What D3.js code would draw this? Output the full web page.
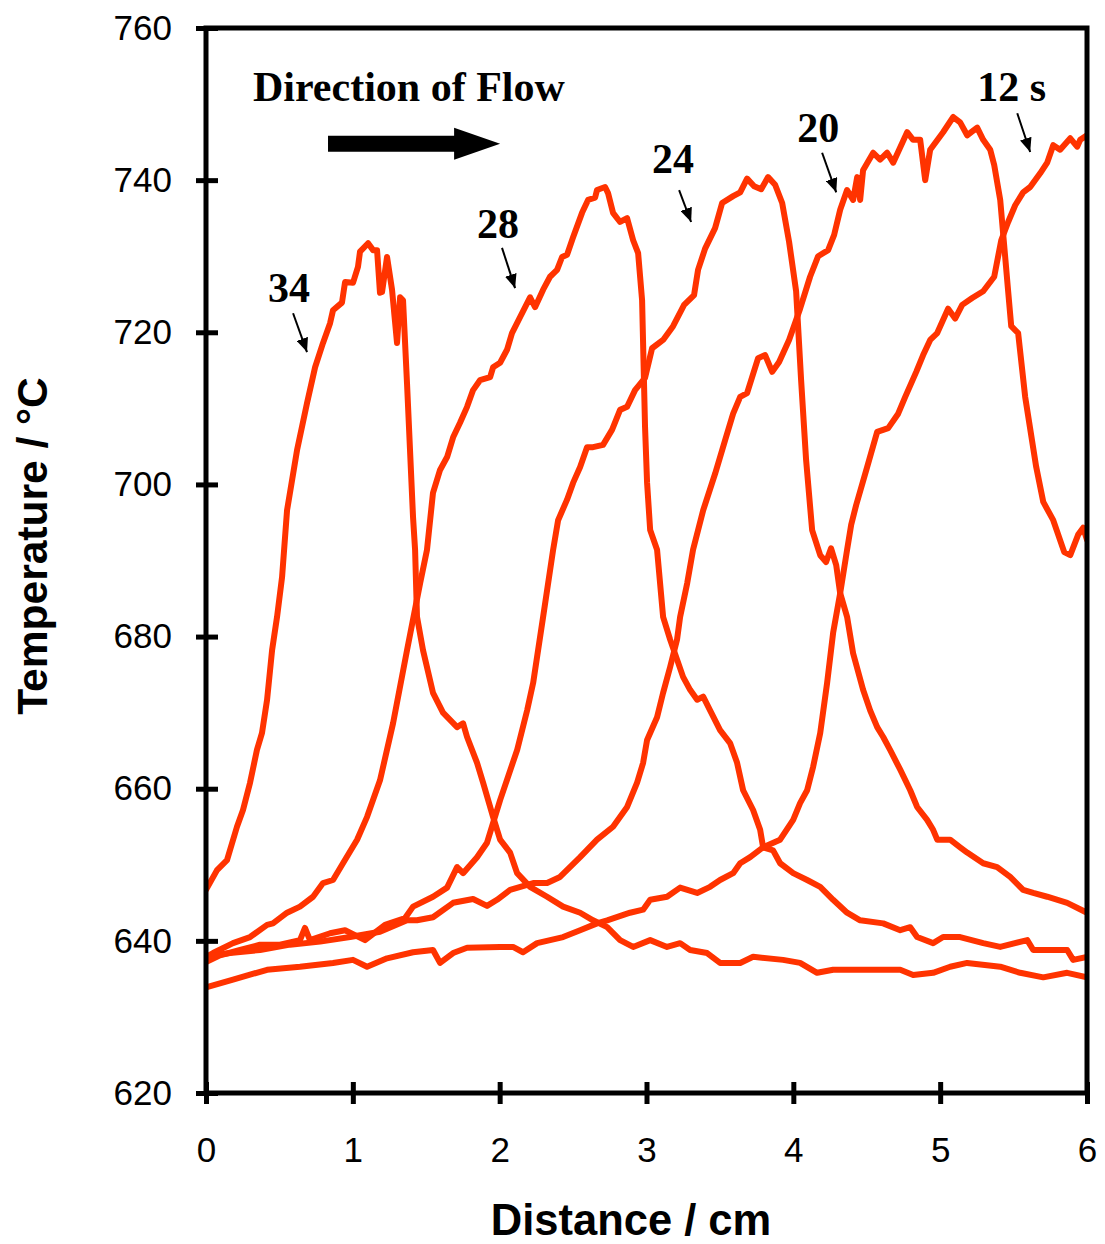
<!DOCTYPE html>
<html>
<head>
<meta charset="utf-8">
<script src="https://cdn.jsdelivr.net/npm/d3@7"></script>
<style>
  html, body { margin: 0; padding: 0; background: #fff; }
  svg { display: block; }
</style>
</head>
<body>
<svg id="chart" width="1105" height="1244"></svg>
<script>
// ---------------- DATA ----------------
const xTicks = [0, 1, 2, 3, 4, 5, 6];
const yTicks = [620, 640, 660, 680, 700, 720, 740, 760];
const xTitle = "Distance / cm";
const yTitle = "Temperature / °C";
const flowLabel = "Direction of Flow";
const seriesNames = ["34", "28", "24", "20", "12 s"];

const dist34 = [0,0.075,0.143,0.211,0.252,0.300,0.347,0.381,0.416,0.450,0.484,0.518,0.552,0.620,0.688,0.743,0.797,0.845,0.865,0.926,0.947,1.001,1.035,1.049,1.104,1.138,1.165,1.185,1.199,1.233,1.267,1.301,1.322,1.342,1.369,1.410,1.424,1.437,1.478,1.546,1.614,1.710,1.751,1.778,1.846,1.887,1.955,2.003,2.071,2.119,2.207,2.323,2.432,2.548,2.636,2.732,2.820,2.909,3.025,3.140,3.229,3.297,3.413,3.501,3.638,3.726,3.930,4.046,4.162,4.271,4.503,4.728,4.816,4.952,5.068,5.184,5.409,5.545,5.702,5.865,6.0];
const temp34 = [646.7,649.3,650.6,655.0,657.2,660.8,665.1,667.3,671.7,678.2,682.6,687.8,696.6,704.5,710.7,715.4,718.6,721.2,722.9,723.9,726.6,726.5,728.6,730.6,731.7,730.8,730.8,725.2,725.3,729.9,725.6,718.6,724.6,724.2,713.3,695.7,691.4,682.6,678.2,672.6,670.0,668.1,668.6,666.8,663.4,660.8,656.3,653.3,651.6,648.9,647.1,645.8,644.5,643.7,642.7,641.8,640.1,639.2,640.1,639.2,639.7,638.8,638.4,637.1,637.1,637.9,637.5,637.1,635.8,636.2,636.2,636.2,635.5,635.8,636.6,637.1,636.6,635.8,635.2,635.8,635.2];

const dist28 = [0,0.048,0.184,0.300,0.416,0.456,0.552,0.640,0.729,0.797,0.865,0.933,1.029,1.097,1.185,1.274,1.369,1.458,1.505,1.546,1.594,1.642,1.683,1.730,1.778,1.819,1.866,1.935,1.955,2.003,2.050,2.084,2.139,2.207,2.241,2.296,2.343,2.391,2.425,2.459,2.500,2.561,2.602,2.650,2.663,2.718,2.738,2.772,2.820,2.868,2.909,2.943,2.970,2.990,3.004,3.025,3.072,3.113,3.161,3.249,3.297,3.345,3.386,3.433,3.501,3.569,3.617,3.658,3.726,3.774,3.794,3.862,3.910,3.999,4.094,4.183,4.271,4.366,4.455,4.612,4.728,4.796,4.843,4.952,5.020,5.136,5.293,5.409,5.593,5.634,5.865,5.906,6.0];
const temp28 = [637.9,638.4,639.7,640.5,642.1,642.3,643.7,644.5,645.8,647.6,648.0,650.2,653.3,656.3,661.1,668.6,678.2,687.0,691.4,698.9,701.9,703.6,706.2,708.1,710.2,712.4,713.7,714.1,715.4,716.0,717.7,719.9,722.0,724.6,723.3,725.6,727.3,728.2,729.9,730.2,732.5,735.7,737.4,737.7,738.7,739.1,738.3,735.7,734.5,735.0,732.1,730.4,724.2,707.6,700.2,694.0,691.4,682.6,679.6,674.7,673.0,671.7,672.1,670.3,667.7,666.0,663.4,659.8,657.2,654.6,652.3,651.9,650.2,648.9,648.0,647.1,645.4,643.7,642.7,642.3,641.4,641.8,640.5,639.7,640.5,640.5,639.7,639.2,640.1,638.8,638.8,637.5,637.9];

const dist24 = [0,0.095,0.232,0.368,0.504,0.640,0.674,0.708,0.845,0.947,1.083,1.219,1.356,1.410,1.546,1.642,1.710,1.751,1.846,1.914,2.003,2.119,2.187,2.228,2.296,2.364,2.398,2.459,2.500,2.548,2.595,2.636,2.704,2.766,2.820,2.868,2.922,2.990,3.038,3.113,3.181,3.256,3.324,3.351,3.399,3.467,3.515,3.590,3.638,3.685,3.733,3.781,3.828,3.876,3.924,3.971,4.019,4.053,4.087,4.128,4.183,4.223,4.257,4.292,4.319,4.366,4.407,4.475,4.523,4.571,4.612,4.659,4.728,4.796,4.843,4.911,4.952,4.980,5.068,5.136,5.184,5.293,5.388,5.477,5.565,5.634,5.729,5.865,6.0];
const temp24 = [637.2,638.1,638.8,639.5,639.5,640.1,641.7,640.1,641.0,641.4,640.1,642.1,643.0,644.5,645.8,647.0,649.7,648.9,651.0,652.9,658.5,665.1,670.3,673.9,682.6,691.4,695.3,698.0,700.2,702.3,704.9,704.9,705.2,707.2,709.8,710.2,712.4,714.0,717.9,719.0,720.8,723.6,724.9,728.2,731.0,733.7,737.0,737.9,738.4,740.2,739.2,738.8,740.4,739.4,737.0,731.9,725.4,713.7,703.2,694.0,690.7,689.8,691.6,689.4,685.7,682.6,677.8,673.0,670.3,668.1,666.8,665.1,662.5,659.8,657.6,655.9,654.6,653.3,653.3,652.3,651.6,650.2,649.7,648.4,646.7,646.3,645.8,645.0,643.7];

const dist20 = [0,0.163,0.368,0.572,0.777,0.981,1.185,1.369,1.437,1.546,1.683,1.819,1.914,1.982,2.071,2.228,2.323,2.411,2.548,2.663,2.772,2.868,2.936,2.977,3.004,3.072,3.113,3.161,3.208,3.229,3.277,3.317,3.386,3.467,3.535,3.590,3.638,3.685,3.760,3.808,3.856,3.903,3.971,4.046,4.114,4.169,4.237,4.278,4.319,4.366,4.407,4.435,4.455,4.475,4.544,4.591,4.639,4.680,4.775,4.816,4.864,4.898,4.932,5.020,5.089,5.136,5.184,5.252,5.293,5.341,5.368,5.409,5.463,5.484,5.531,5.579,5.654,5.702,5.770,5.845,5.886,5.940,5.974,6.0];
const temp20 = [637.9,638.4,638.8,639.5,639.9,640.5,641.2,642.7,642.7,643.1,645.0,645.5,644.6,645.4,646.7,647.6,647.6,648.4,651.0,653.3,655.0,657.6,660.8,663.4,666.4,669.4,672.6,676.0,679.6,682.6,687.0,691.4,696.6,701.4,705.8,709.3,711.5,712.0,716.6,717.0,714.8,716.1,719.0,723.1,727.3,730.0,730.8,732.8,736.1,738.7,737.4,740.4,737.4,741.3,743.6,742.7,743.6,742.3,746.3,745.3,745.3,740.0,744.0,746.3,748.3,747.6,745.9,746.9,745.3,744.0,742.0,737.4,725.4,720.8,719.9,711.5,702.3,697.7,695.3,691.1,690.7,693.4,694.3,692.7];

const dist12 = [0,0.184,0.416,0.640,0.865,1.001,1.097,1.233,1.410,1.546,1.594,1.683,1.778,2.003,2.091,2.159,2.255,2.432,2.548,2.663,2.732,2.888,2.977,3.025,3.140,3.229,3.345,3.433,3.501,3.590,3.638,3.706,3.794,3.910,3.999,4.046,4.094,4.135,4.183,4.230,4.271,4.319,4.366,4.394,4.428,4.503,4.571,4.646,4.714,4.762,4.837,4.884,4.932,4.980,5.054,5.102,5.150,5.218,5.293,5.368,5.416,5.463,5.511,5.565,5.613,5.681,5.729,5.770,5.817,5.886,5.933,5.954,6.0];
const temp12 = [633.9,634.9,636.2,636.6,637.1,637.5,636.6,637.7,638.5,638.8,637.1,638.4,639.1,639.2,639.2,638.5,639.7,640.5,641.4,642.3,642.7,643.7,644.1,645.4,645.8,647.0,646.3,647.1,648.0,648.9,650.2,651.0,652.3,653.3,655.9,658.1,659.8,662.9,667.3,673.9,680.5,685.7,691.4,694.7,697.3,702.3,706.9,707.4,709.3,711.5,714.8,717.0,719.0,719.9,723.1,721.8,723.6,724.5,725.4,727.3,732.1,734.5,736.7,738.4,739.1,740.9,742.3,744.6,744.0,745.5,744.4,745.3,745.9];

// label anchor points (data units): text position, arrow start, arrow end
const labelPos   = [[0.422,724.0],[1.846,732.4],[3.038,740.9],[4.026,745.0],[5.252,750.4]];
const arrowFrom  = [[0.593,722.5],[2.016,731.1],[3.222,738.7],[4.196,743.6],[5.525,748.8]];
const arrowTo    = [[0.688,717.4],[2.105,725.8],[3.304,734.5],[4.292,738.4],[5.613,743.7]];
const flowTextPos = [0.320, 750.4];
const flowArrow = [[0.831, 744.8],[2.003, 744.8]];

// ---------------- CHART ----------------
const svg = d3.select("#chart");
const W = 1105, H = 1244;
const mLeft = 206, mRight = 1087, mTop = 28, mBottom = 1093;
const x = d3.scaleLinear().domain([0, 6]).range([mLeft, mRight]);
const y = d3.scaleLinear().domain([620, 760]).range([mBottom, mTop]);
const RED = "#ff3300";
const sans = "'Liberation Sans', Arial, Helvetica, sans-serif";
const serif = "'Liberation Serif', 'Times New Roman', Times, serif";

svg.append("rect").attr("width", W).attr("height", H).attr("fill", "#fff");

const series = [
  [dist34, temp34], [dist28, temp28], [dist24, temp24], [dist20, temp20], [dist12, temp12]
];
const line = d3.line().x(d => x(d[0])).y(d => y(d[1]));

const defs = svg.append("defs");
defs.append("clipPath").attr("id", "plotclip")
  .append("rect").attr("x", mLeft).attr("y", mTop).attr("width", mRight - mLeft).attr("height", mBottom - mTop);

const gLines = svg.append("g").attr("clip-path", "url(#plotclip)");
series.forEach(([ds, ts]) => {
  const n = Math.min(ds.length, ts.length);
  const pts = d3.range(n).map(i => [ds[i], ts[i]]);
  gLines.append("path")
    .datum(pts)
    .attr("d", line)
    .attr("fill", "none")
    .attr("stroke", RED)
    .attr("stroke-width", 6)
    .attr("stroke-linejoin", "round")
    .attr("stroke-linecap", "round");
});

// Frame
svg.append("rect")
  .attr("x", mLeft).attr("y", mTop)
  .attr("width", mRight - mLeft).attr("height", mBottom - mTop)
  .attr("fill", "none").attr("stroke", "#000").attr("stroke-width", 5);

// Y axis
const yAxis = d3.axisLeft(y).tickValues(yTicks).tickSize(10).tickPadding(24).tickFormat(d3.format("d"));
const gy = svg.append("g").attr("transform", `translate(${mLeft},0)`).call(yAxis);
gy.select(".domain").remove();
gy.selectAll(".tick line").attr("x1", 12).attr("x2", -10).attr("stroke", "#000").attr("stroke-width", 5);
gy.selectAll(".tick text").attr("font-family", sans).attr("font-size", 35).attr("fill", "#000");

// X axis
const xAxis = d3.axisBottom(x).tickValues(xTicks).tickSize(11).tickPadding(33).tickFormat(d3.format("d"));
const gx = svg.append("g").attr("transform", `translate(0,${mBottom})`).call(xAxis);
gx.select(".domain").remove();
gx.selectAll(".tick line").attr("y1", -11).attr("y2", 11).attr("stroke", "#000").attr("stroke-width", 5);
gx.selectAll(".tick text").attr("font-family", sans).attr("font-size", 35).attr("fill", "#000");

// Axis titles
svg.append("text")
  .attr("x", 631).attr("y", 1235)
  .attr("text-anchor", "middle")
  .attr("font-family", sans).attr("font-weight", "bold").attr("font-size", 43.5)
  .text(xTitle);

svg.append("text")
  .attr("transform", "translate(47,546) rotate(-90)")
  .attr("text-anchor", "middle")
  .attr("font-family", sans).attr("font-weight", "bold").attr("font-size", 42.5)
  .text(yTitle);

// Direction of flow
svg.append("text")
  .attr("x", x(flowTextPos[0])).attr("y", y(flowTextPos[1]))
  .attr("font-family", serif).attr("font-weight", "bold").attr("font-size", 42)
  .text(flowLabel);

{
  const x0 = x(flowArrow[0][0]), x1 = x(flowArrow[1][0]), yc = y(flowArrow[0][1]);
  const headLen = 46, barHalf = 8, headHalf = 16;
  svg.append("path")
    .attr("d", `M${x0},${yc - barHalf} L${x1 - headLen},${yc - barHalf} L${x1 - headLen},${yc - headHalf} L${x1},${yc} L${x1 - headLen},${yc + headHalf} L${x1 - headLen},${yc + barHalf} L${x0},${yc + barHalf} Z`)
    .attr("fill", "#000");
}

// Series labels with small arrows
defs.append("marker")
  .attr("id", "ah").attr("markerUnits", "userSpaceOnUse")
  .attr("viewBox", "0 0 14 12").attr("refX", 14).attr("refY", 6)
  .attr("markerWidth", 14).attr("markerHeight", 12).attr("orient", "auto")
  .append("path").attr("d", "M0,0 L14,6 L0,12 Z").attr("fill", "#000");

seriesNames.forEach((name, i) => {
  svg.append("text")
    .attr("x", x(labelPos[i][0])).attr("y", y(labelPos[i][1]))
    .attr("font-family", serif).attr("font-weight", "bold").attr("font-size", 42)
    .text(name);
  svg.append("line")
    .attr("x1", x(arrowFrom[i][0])).attr("y1", y(arrowFrom[i][1]))
    .attr("x2", x(arrowTo[i][0])).attr("y2", y(arrowTo[i][1]))
    .attr("stroke", "#000").attr("stroke-width", 2)
    .attr("marker-end", "url(#ah)");
});
</script>
</body>
</html>
